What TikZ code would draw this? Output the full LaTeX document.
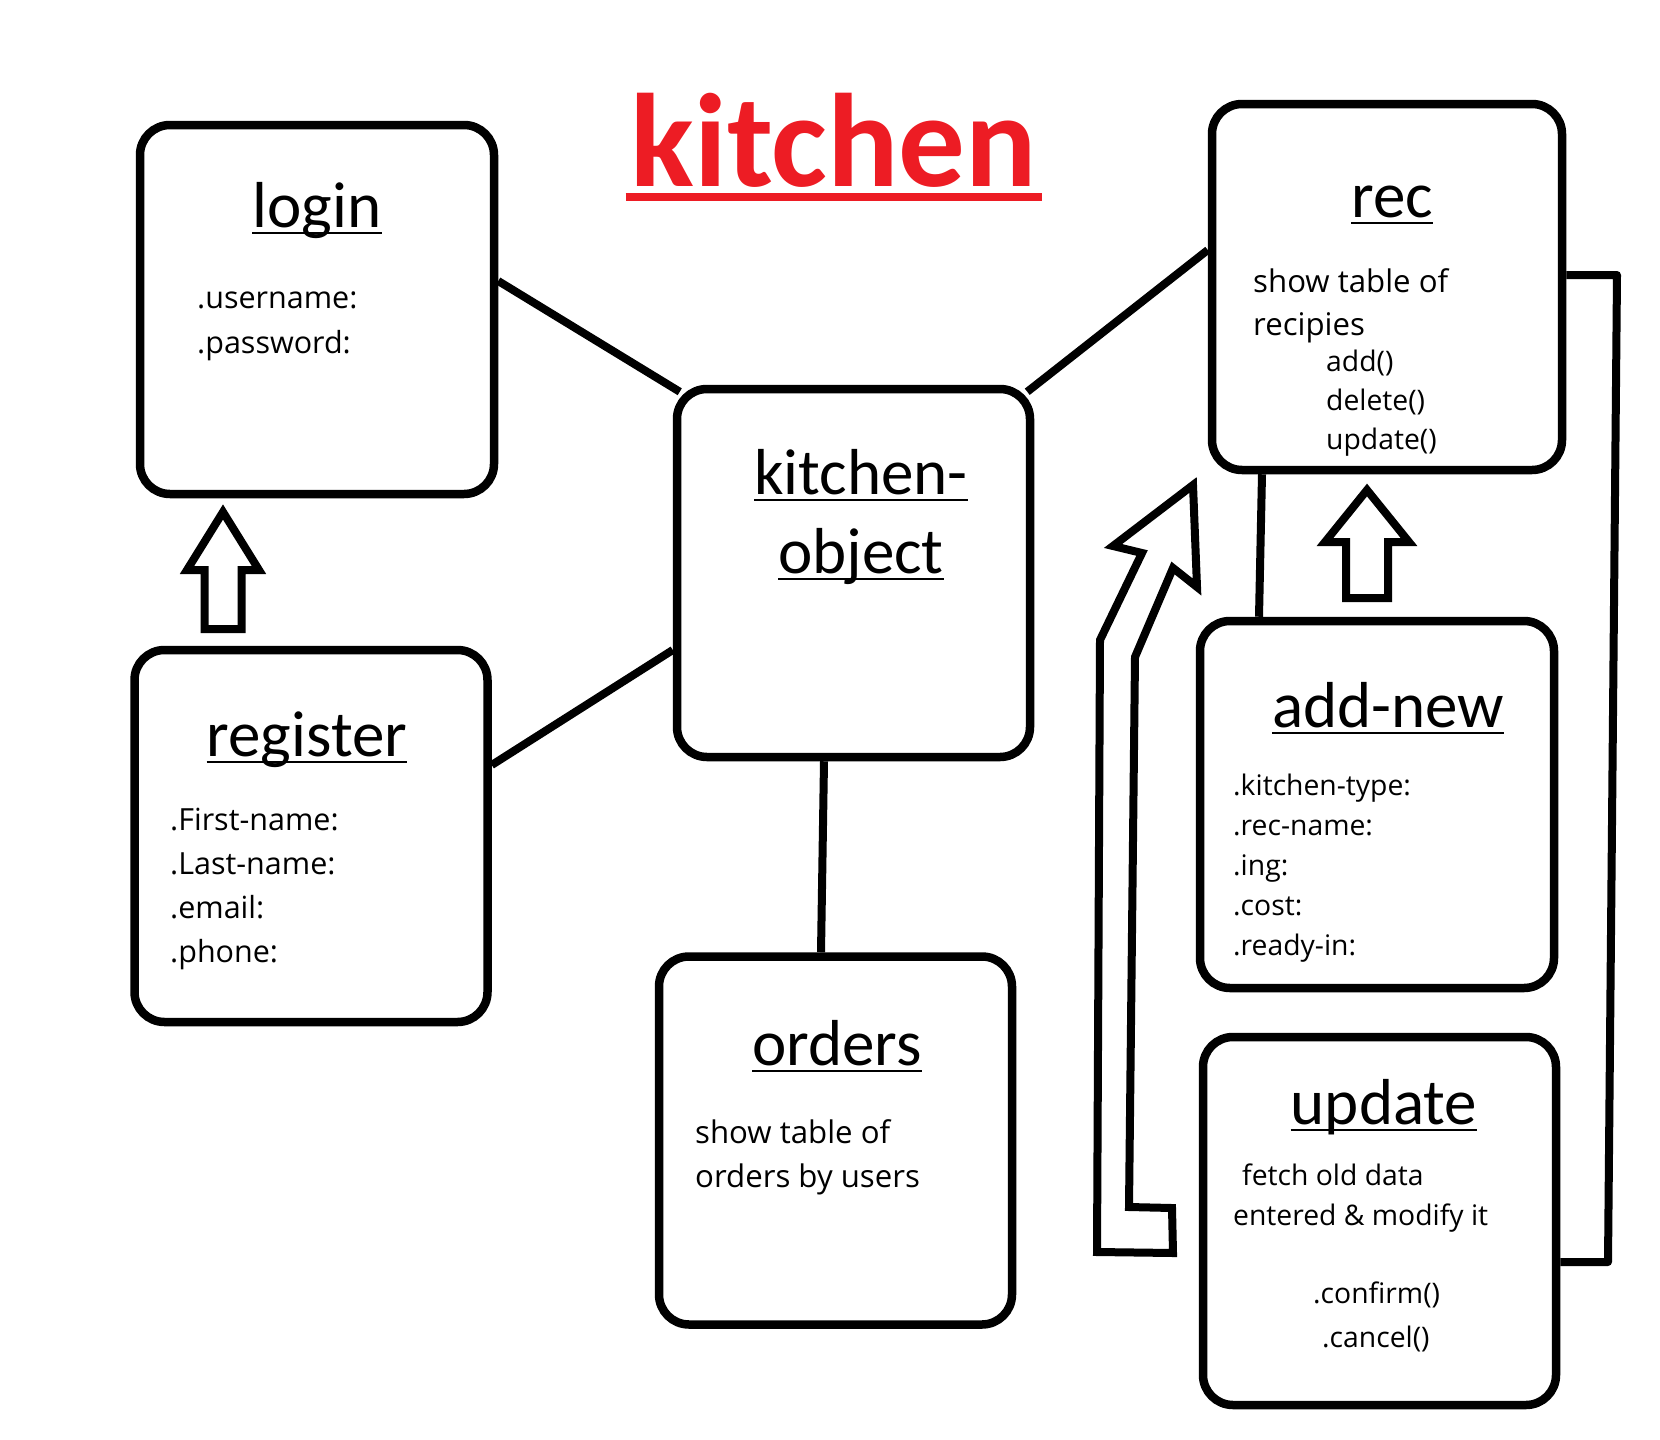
\documentclass[tikz,border=0pt]{standalone}
\usepackage{fontspec}
\newfontfamily\titlefont{Carlito}
\newfontfamily\bodyfont{Open Sans}
\definecolor{kitchenred}{HTML}{ED1C24}
\tikzset{
  box/.style={draw, line width=8.5pt, rounded corners=30pt, minimum width=353pt, minimum height=368pt, inner sep=0pt},
  link/.style={line width=8pt},
  hollow/.style={draw, line width=8pt, line join=miter},
  ttl/.style={inner sep=0pt, anchor=base, font=\titlefont\fontsize{65}{78}\selectfont},
  body/.style={inner sep=0pt, anchor=base west, font=\bodyfont\fontsize{30.5}{43}\selectfont},
  wide/.style={body, font=\bodyfont\fontsize{31.2}{43}\selectfont},
  small/.style={body, font=\bodyfont\fontsize{28.3}{40}\selectfont},
  uline/.style={line width=2.6pt},
}

\begin{document}
\begin{tikzpicture}[x=1pt, y=-1pt]
    \useasboundingbox (0,0) rectangle (1660,1440);

    % Page title
    \node[inner sep=0pt, anchor=base, text=kitchenred, font=\titlefont\bfseries\fontsize{133}{150}\selectfont] (maint) at (834,186) {kitchen};
    \draw[kitchenred, line width=8pt] ([xshift=-5pt,yshift=-11pt]maint.base west) -- ([xshift=5pt,yshift=-11pt]maint.base east);

    % Boxes
    \node[box, minimum width=354pt, minimum height=369pt] (login) at (317,309.5) {};
    \node[box, minimum height=372pt] (register) at (311,836) {};
    \node[box] (kobj) at (853.5,573) {};
    \node[box] (orders) at (835.5,1140.5) {};
    \node[box, minimum width=350pt, minimum height=366pt] (rec) at (1387,287) {};
    \node[box, minimum width=354pt, minimum height=367pt] (addnew) at (1377,804.5) {};
    \node[box] (update) at (1379.5,1221) {};

    % Box titles, underlined
    \node[ttl] (logint) at (317,227) {login};
    \node[ttl] (registert) at (307,756) {register};
    \node[ttl] (kobjt1) at (861,494) {kitchen-};
    \node[ttl] (kobjt2) at (861,573) {object};
    \node[ttl] (orderst) at (837,1065) {orders};
    \node[ttl] (rect) at (1392,217) {rec};
    \node[ttl] (addnewt) at (1388,727) {add-new};
    \node[ttl] (updatet) at (1384,1124) {update};
    \foreach \t in {logint,registert,kobjt1,kobjt2,orderst,rect,addnewt,updatet}
        \draw[uline] ([yshift=-6pt]\t.base west) -- ([yshift=-6pt]\t.base east);

    % Box contents
    \node[body] (user) at (197,308) {.username:};
    \node[body] (pass) at (197,353) {.password:};
    \foreach \txt [count=\i] in {.First-name:,.Last-name:,.email:,.phone:}
        \node[body] (reg\i) at (170,{830+44*(\i-1)}) {\txt};

    \node[wide] (rec1) at (1253,292) {show table of};
    \node[wide] (rec2) at (1253,335) {recipies};
    \foreach \txt [count=\i] in {add(),delete(),update()}
        \node[small] (recf\i) at (1326,{371+39*(\i-1)}) {\txt};

    \foreach \txt [count=\i] in {.kitchen-type:,.rec-name:,.ing:,.cost:,.ready-in:}
        \node[small] (add\i) at (1233,{795+40*(\i-1)}) {\txt};

    \node[wide] (ord1) at (695,1143) {show table of};
    \node[wide] (ord2) at (695,1187) {orders by users};

    \node[small] (upd1) at (1242,1185) {fetch old data};
    \node[small] (upd2) at (1233,1225) {entered \& modify it};
    \node[small] (upd3) at (1313,1303) {.confirm()};
    \node[small] (upd4) at (1322,1347) {.cancel()};

    % Connectors
    \draw[link] (login.east |- 0,281) -- ([shift={(7,7)}]kobj.north west);
    \draw[link] (register.east |- 0,765) -- (kobj.west |- 0,650);
    \draw[link] ([shift={(-7,7)}]kobj.north east) -- (rec.west |- 0,250);
    \draw[link] (kobj.south -| 824,0) -- (orders.north -| 821,0);
    \draw[link] (rec.south -| 1262,0) -- (addnew.north -| 1259,0);
    \coordinate (bendtop) at (1617,275);
    \coordinate (bendbot) at (1608,1262);
    \draw[link, line join=round] (rec.east |- bendtop) -- (bendtop) -- (bendbot) -- (update.east |- bendbot);

    % Hollow arrows
    \draw[hollow] (223,512) -- (259,570) -- (241.5,570) -- (241.5,629) -- (204.5,629) -- (204.5,570) -- (187,570) -- cycle;
    \draw[hollow] (1367,490) -- (1409,542) -- (1388,542) -- (1388,598) -- (1346,598) -- (1346,542) -- (1325,542) -- cycle;
    \draw[hollow] (1097,1252) -- (1173,1253) -- (1172,1208) -- (1129,1207) -- (1135,657) -- (1173,568) -- (1197,587)
        -- (1193,485) -- (1113,546) -- (1142,553) -- (1100,640) -- cycle;
\end{tikzpicture}
\end{document}
